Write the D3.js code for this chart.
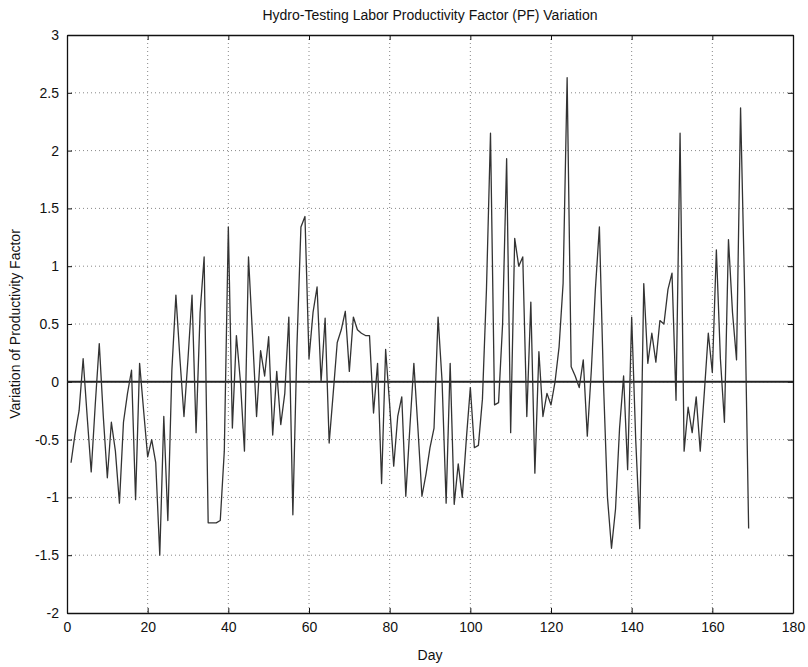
<!DOCTYPE html>
<html>
<head>
<meta charset="utf-8">
<script src="https://cdn.jsdelivr.net/npm/d3@7"></script>
<style>
  body { margin: 0; background: #fff; }
  svg text { font-family: "Liberation Sans", Arial, sans-serif; fill: #111; }
  .grid line { stroke: #888; stroke-dasharray: 1,3; }
</style>
</head>
<body>
<div id="chart"></div>
<script>
// daily variation of PF, day 1..169
const days = d3.range(1, 170);
const pfVariation = [
  -0.70, -0.45, -0.25, 0.20, -0.30, -0.78, -0.20, 0.33, -0.30, -0.83,
  -0.35, -0.60, -1.05, -0.35, -0.10, 0.10, -1.02, 0.16, -0.25, -0.65,
  -0.50, -0.70, -1.50, -0.30, -1.20, 0.10, 0.75, 0.20, -0.30, 0.20,
  0.75, -0.44, 0.60, 1.08, -1.22, -1.22, -1.22, -1.20, -0.60, 1.34,
  -0.40, 0.40, 0.00, -0.60, 1.08, 0.40, -0.30, 0.27, 0.05, 0.39,
  -0.46, 0.09, -0.37, -0.10, 0.56, -1.15, 0.30, 1.34, 1.43, 0.20,
  0.60, 0.82, 0.00, 0.55, -0.53, -0.10, 0.34, 0.45, 0.61, 0.09,
  0.56, 0.45, 0.42, 0.40, 0.40, -0.27, 0.16, -0.88, 0.28, -0.20,
  -0.73, -0.30, -0.13, -0.99, -0.40, 0.16, -0.40, -0.99, -0.80, -0.57,
  -0.40, 0.56, 0.00, -1.05, 0.16, -1.06, -0.71, -1.00, -0.50, -0.05,
  -0.57, -0.55, -0.15, 0.80, 2.15, -0.20, -0.18, 0.50, 1.93, -0.44,
  1.24, 1.00, 1.08, -0.30, 0.69, -0.79, 0.26, -0.30, -0.10, -0.20,
  0.00, 0.30, 0.85, 2.63, 0.13, 0.05, -0.05, 0.19, -0.47, 0.10,
  0.80, 1.34, 0.00, -1.00, -1.44, -1.10, -0.40, 0.05, -0.76, 0.56,
  -0.50, -1.27, 0.85, 0.16, 0.42, 0.17, 0.53, 0.50, 0.80, 0.94,
  -0.16, 2.15, -0.60, -0.22, -0.44, -0.13, -0.60, -0.10, 0.42, 0.08,
  1.14, 0.20, -0.35, 1.23, 0.60, 0.19, 2.37, 0.80, -1.27
];
const xTicks = d3.range(0, 181, 20);
const yTicks = [-2, -1.5, -1, -0.5, 0, 0.5, 1, 1.5, 2, 2.5, 3];

const width = 808, height = 667;
const margin = { top: 35, right: 15, bottom: 54, left: 67 };

const svg = d3.select("#chart").append("svg")
  .attr("width", width)
  .attr("height", height);

const x = d3.scaleLinear().domain([0, 180]).range([margin.left, width - margin.right]);
const y = d3.scaleLinear().domain([-2, 3]).range([height - margin.bottom, margin.top]);

// dotted grid
const grid = svg.append("g").attr("class", "grid");
grid.selectAll("line.v").data(xTicks.slice(1, -1)).enter().append("line")
  .attr("x1", d => x(d)).attr("x2", d => x(d))
  .attr("y1", y(3)).attr("y2", y(-2));
grid.selectAll("line.h").data(yTicks.slice(1, -1)).enter().append("line")
  .attr("x1", x(0)).attr("x2", x(180))
  .attr("y1", d => y(d)).attr("y2", d => y(d));

// axes, ticks pointing inward like matlab
const tickLen = 5;
svg.append("g")
  .attr("transform", `translate(0,${y(-2)})`)
  .call(d3.axisBottom(x).tickValues(xTicks).tickSizeInner(-tickLen).tickSizeOuter(0).tickPadding(9).tickFormat(d3.format("d")));
svg.append("g")
  .attr("transform", `translate(0,${y(3)})`)
  .call(d3.axisTop(x).tickValues(xTicks).tickSizeInner(-tickLen).tickSizeOuter(0).tickFormat(""));
svg.append("g")
  .attr("transform", `translate(${x(0)},0)`)
  .call(d3.axisLeft(y).tickValues(yTicks).tickSizeInner(-tickLen).tickSizeOuter(0).tickPadding(8).tickFormat(d => d));
svg.append("g")
  .attr("transform", `translate(${x(180)},0)`)
  .call(d3.axisRight(y).tickValues(yTicks).tickSizeInner(-tickLen).tickSizeOuter(0).tickFormat(""));

svg.selectAll(".tick text").style("font-size", "14px").style("fill", "#111");
svg.selectAll(".domain").attr("stroke", "#111").attr("stroke-width", 1.3);
svg.selectAll(".tick line").attr("stroke", "#111");

// zero reference line
svg.append("line")
  .attr("x1", x(0)).attr("x2", x(180))
  .attr("y1", y(0)).attr("y2", y(0))
  .attr("stroke", "#222")
  .attr("stroke-width", 2);

// the series
const line = d3.line().x((d, i) => x(days[i])).y(d => y(d));
svg.append("path")
  .datum(pfVariation)
  .attr("fill", "none")
  .attr("stroke", "#333")
  .attr("stroke-width", 1.3)
  .attr("stroke-linejoin", "round")
  .attr("d", line);

svg.append("text")
  .attr("x", (x(0) + x(180)) / 2)
  .attr("y", 20)
  .attr("text-anchor", "middle")
  .style("font-size", "14px")
  .text("Hydro-Testing Labor Productivity Factor (PF) Variation");

svg.append("text")
  .attr("x", (x(0) + x(180)) / 2)
  .attr("y", 660)
  .attr("text-anchor", "middle")
  .style("font-size", "14px")
  .text("Day");

svg.append("text")
  .attr("transform", `translate(20,${(y(3) + y(-2)) / 2}) rotate(-90)`)
  .attr("text-anchor", "middle")
  .style("font-size", "14px")
  .text("Variation of Productivity Factor");
</script>
</body>
</html>
